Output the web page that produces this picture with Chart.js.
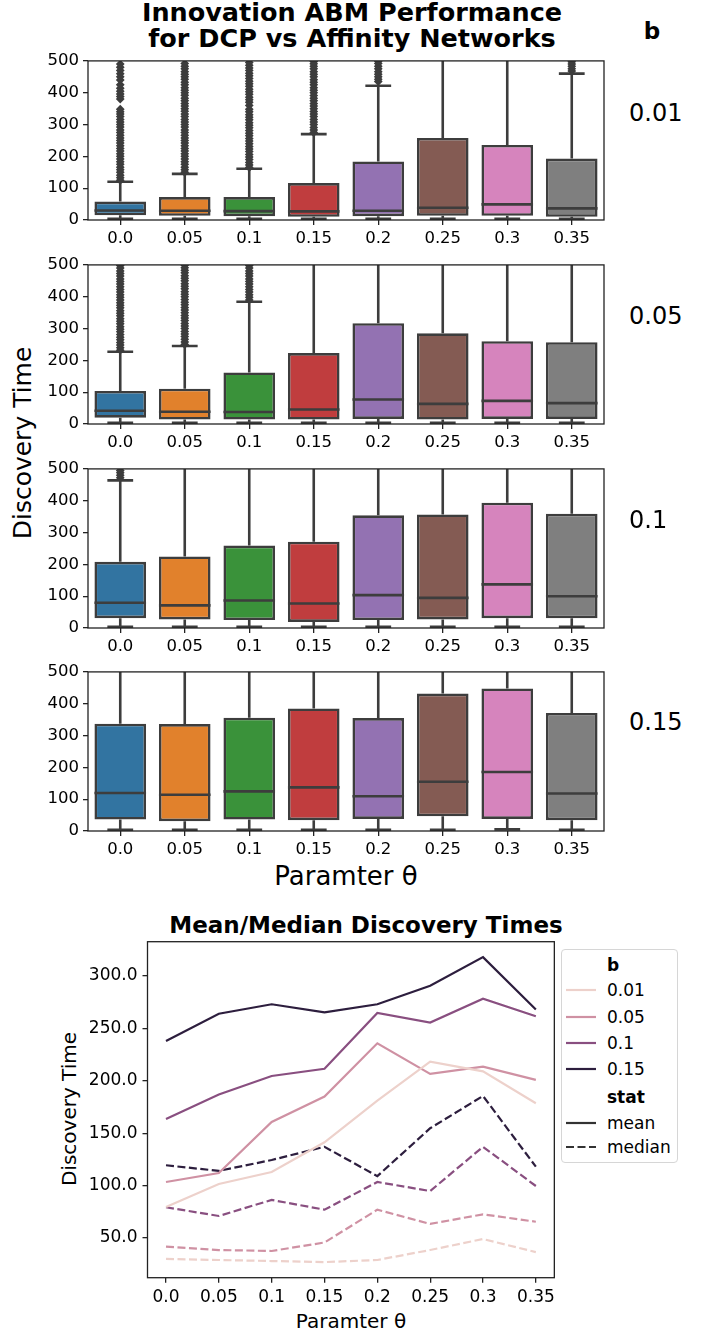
<!DOCTYPE html>
<html>
<head>
<meta charset="utf-8">
<script src="https://cdn.jsdelivr.net/npm/chart.js@4.4.0/dist/chart.umd.min.js"></script>
<style>
  body { margin: 0; width: 711px; height: 1334px; background: #fff; position: relative; overflow: hidden;
         font-family: 'DejaVu Sans', sans-serif; color: #000; }
  canvas { position: absolute; }
  .t { position: absolute; white-space: nowrap; line-height: 1; transform: translate(-50%, -50%); }
  .l { position: absolute; white-space: nowrap; line-height: 1; transform: translate(0, -50%); font-size: 17px; }
  .rot { transform: translate(-50%, -50%) rotate(-90deg); }
  #legendBox { position: absolute; left: 561px; top: 949px; width: 115px; height: 212px;
               border: 1px solid #d6d6d6; border-radius: 4px; }
</style>
</head>
<body>

<div class="t" style="left:352px;top:13px;font-size:25.5px;font-weight:bold">Innovation ABM Performance</div>
<div class="t" style="left:352px;top:39px;font-size:25.5px;font-weight:bold">for DCP vs Affinity Networks</div>
<div class="t" style="left:652px;top:31px;font-size:23px;font-weight:bold">b</div>
<div class="t rot" style="left:22px;top:443px;font-size:25px">Discovery Time</div>
<div class="t" style="left:346px;top:876px;font-size:26px">Paramter θ</div>

<div class="t" style="left:366px;top:925px;font-size:23px;font-weight:bold">Mean/Median Discovery Times</div>
<div class="t rot" style="left:69px;top:1109px;font-size:20px">Discovery Time</div>
<div class="t" style="left:351px;top:1321px;font-size:20px">Paramter θ</div>
<div id="legendBox"></div>

<script>
const thetaLabels = ['0.0', '0.05', '0.1', '0.15', '0.2', '0.25', '0.3', '0.35'];
const bLabels = ['0.01', '0.05', '0.1', '0.15'];

// mean / median discovery time: one row per b, one column per theta
const meanTimes = [
    [79.6, 101.5, 113, 141.3, 181, 218.2, 209, 178.5],
    [103.4, 112, 160.7, 185, 235.8, 206.5, 213.5, 200.8],
    [163.5, 187, 204.6, 211.5, 264.7, 255.5, 278.3, 261.5],
    [238, 264, 273, 265.3, 273, 290.7, 318, 268]
];
const medianTimes = [
    [30, 29, 28, 27, 29, 38.5, 49, 36.5],
    [41.7, 38.5, 37.6, 45.7, 77, 63.4, 72.6, 65.5],
    [79.3, 71, 86.3, 77, 103.4, 94.8, 137, 99.6],
    [119.4, 114, 124.4, 137, 109, 154.7, 185.5, 118]
];

// box quartiles and whisker ends (whiskers above 500 run off the panel)
const lowerQuartiles = [
    [15, 13, 12, 10, 12, 13, 13, 10],
    [20, 14, 14, 14, 16, 14, 16, 16],
    [31, 27, 25, 19, 25, 27, 31, 31],
    [36, 31, 36, 34, 38, 46, 38, 34]
];
const upperQuartiles = [
    [58, 72, 72, 116, 184, 258, 236, 193],
    [104, 111, 162, 223, 317, 285, 260, 257],
    [208, 225, 259, 271, 354, 357, 394, 359],
    [337, 336, 356, 385, 355, 432, 448, 371]
];
const lowerWhiskers = [
    [4, 4, 4, 4, 4, 4, 4, 4],
    [4, 4, 4, 4, 4, 4, 4, 4],
    [4, 4, 4, 4, 4, 4, 4, 4],
    [4, 4, 4, 4, 4, 4, 5, 4]
];
const upperWhiskers = [
    [120, 145, 161, 270, 422, 620, 560, 460],
    [227, 245, 384, 540, 750, 700, 640, 640],
    [464, 520, 580, 600, 790, 800, 880, 800],
    [780, 770, 820, 860, 800, 1000, 1050, 880]
];

// flier values, per theta column
const fliersB01 = [
    [125, 133, 141, 150, 158, 166, 175, 183, 192, 200, 208, 217, 225, 233, 242, 250, 258, 266, 275, 283,
     292, 300, 308, 316, 325, 333, 340, 348, 380, 388, 396, 405, 414, 425, 440, 450, 460, 470, 480, 490],
    [150, 158, 166, 175, 183, 192, 200, 208, 217, 225, 233, 242, 250, 258, 266, 275, 283, 292, 300, 308,
     316, 325, 333, 342, 350, 358, 366, 375, 383, 392, 400, 408, 416, 425, 433, 442, 450, 458, 466, 475, 483, 492],
    [165, 173, 181, 190, 198, 206, 215, 223, 231, 240, 248, 256, 265, 273, 281, 290, 298, 306, 315, 323,
     331, 340, 348, 360, 370, 378, 386, 395, 403, 411, 420, 428, 436, 445, 453, 461, 470, 478, 486, 495],
    [275, 283, 291, 300, 308, 316, 325, 333, 341, 350, 358, 366, 375, 383, 391, 400, 408, 416, 425, 433,
     441, 450, 458, 466, 475, 483, 491, 498],
    [435, 442, 450, 458, 466, 475, 483, 492, 499],
    [],
    [],
    [468, 475, 483, 490, 497]
];
const fliersB05 = [
    [232, 240, 248, 256, 265, 273, 281, 290, 298, 306, 315, 323, 331, 340, 348, 356, 365, 373, 381, 390,
     398, 406, 415, 423, 431, 440, 448, 456, 465, 473, 481, 490, 498],
    [250, 258, 266, 275, 283, 291, 300, 308, 316, 325, 333, 341, 350, 358, 366, 375, 383, 391, 400, 408,
     416, 425, 433, 441, 450, 458, 466, 475, 483, 491, 499],
    [390, 398, 406, 415, 423, 431, 440, 448, 456, 465, 473, 481, 490, 498],
    [], [], [], [], []
];
const fliersB10 = [[472, 480, 488, 495], [], [], [], [], [], [], []];
const fliersB15 = [[], [], [], [], [], [], [], []];
const fliers = [fliersB01, fliersB05, fliersB10, fliersB15];

const lineTickValues = [50, 100, 150, 200, 250, 300];
const boxColors = ['#3274a1', '#e1812c', '#3a923a', '#c03d3e', '#9372b2', '#845b53', '#d684bd', '#7f7f7f'];
const lineColors = ['#edd1cb', '#cf91a3', '#894f80', '#2d1e3e'];
const edge = '#3d3d3d';
const spine = '#222';

Chart.defaults.font.family = "'DejaVu Sans', sans-serif";
Chart.defaults.color = '#000';
Chart.defaults.animation = false;

function makeCanvas(left, top, w, h) {
    const c = document.createElement('canvas');
    c.width = w;
    c.height = h;
    c.style.left = left + 'px';
    c.style.top = top + 'px';
    c.style.width = w + 'px';
    c.style.height = h + 'px';
    document.body.appendChild(c);
    return c;
}

const frame = {
    id: 'frame',
    afterDatasetsDraw(chart) {
        const { ctx, chartArea: a } = chart;
        ctx.save();
        ctx.strokeStyle = spine;
        ctx.lineWidth = 1.3;
        ctx.strokeRect(a.left, a.top, a.right - a.left, a.bottom - a.top);
        ctx.restore();
    }
};

// whiskers, caps and median lines for panel k
function boxParts(k) {
    return {
        id: 'boxParts',
        beforeDatasetsDraw(chart) {
            const { ctx, chartArea: a, scales: { y } } = chart;
            const bars = chart.getDatasetMeta(1).data;
            ctx.save();
            ctx.beginPath();
            ctx.rect(a.left, a.top, a.right - a.left, a.bottom - a.top);
            ctx.clip();
            ctx.strokeStyle = edge;
            ctx.lineWidth = 2.6;
            bars.forEach((bar, i) => {
                const cx = bar.x, cap = bar.width / 4;
                const lo = y.getPixelForValue(lowerWhiskers[k][i]);
                const hi = y.getPixelForValue(upperWhiskers[k][i]);
                const q1 = y.getPixelForValue(lowerQuartiles[k][i]);
                const q3 = y.getPixelForValue(upperQuartiles[k][i]);
                ctx.beginPath();
                ctx.moveTo(cx, q1); ctx.lineTo(cx, lo);
                ctx.moveTo(cx, q3); ctx.lineTo(cx, hi);
                ctx.moveTo(cx - cap, lo); ctx.lineTo(cx + cap, lo);
                ctx.moveTo(cx - cap, hi); ctx.lineTo(cx + cap, hi);
                ctx.stroke();
            });
            ctx.restore();
        },
        afterDatasetsDraw(chart) {
            const { ctx, scales: { y } } = chart;
            const bars = chart.getDatasetMeta(1).data;
            ctx.save();
            ctx.strokeStyle = edge;
            ctx.lineWidth = 2.6;
            bars.forEach((bar, i) => {
                const my = y.getPixelForValue(medianTimes[k][i]);
                ctx.beginPath();
                ctx.moveTo(bar.x - bar.width / 2, my);
                ctx.lineTo(bar.x + bar.width / 2, my);
                ctx.stroke();
            });
            ctx.restore();
        }
    };
}

const axisGrid = { drawOnChartArea: false, drawTicks: true, tickLength: 5, color: spine, lineWidth: 1.3 };

const panelTops = [57, 261, 465, 668];

panelTops.forEach((top, k) => {
    const canvas = makeCanvas(0, top - 10, 620, 205);
    const flierPoints = [];
    fliers[k].forEach((vals, i) => vals.forEach(v => flierPoints.push({ x: thetaLabels[i], y: v })));

    new Chart(canvas, {
        type: 'bar',
        data: {
            labels: thetaLabels,
            datasets: [{
                type: 'line',
                data: flierPoints,
                showLine: false,
                pointStyle: 'rectRot',
                pointRadius: 4.4,
                pointBackgroundColor: edge,
                pointBorderColor: edge,
                pointBorderWidth: 0,
                clip: 0,
                order: 0
            }, {
                data: thetaLabels.map((_, i) => [lowerQuartiles[k][i], upperQuartiles[k][i]]),
                backgroundColor: boxColors,
                borderColor: edge,
                borderWidth: 2.6,
                borderSkipped: false,
                barPercentage: 0.8,
                categoryPercentage: 1,
                order: 1
            }]
        },
        options: {
            responsive: false,
            devicePixelRatio: 1,
            layout: { padding: { top: 10, right: 16, left: 0, bottom: 0 } },
            plugins: { legend: { display: false }, tooltip: { enabled: false } },
            scales: {
                x: {
                    grid: { ...axisGrid, offset: false },
                    border: { display: false },
                    ticks: { font: { size: 16.5 }, padding: 4, maxRotation: 0, autoSkip: false },
                    afterFit: s => { s.height = 32; }
                },
                y: {
                    min: 0,
                    max: 500,
                    grid: axisGrid,
                    border: { display: false },
                    ticks: { stepSize: 100, font: { size: 16.5 }, padding: 4 },
                    afterFit: s => { s.width = 88; }
                }
            }
        },
        plugins: [boxParts(k), frame]
    });

    const lbl = document.createElement('div');
    lbl.className = 'l';
    lbl.style.left = '629px';
    lbl.style.top = [113, 316, 520, 722][k] + 'px';
    lbl.style.fontSize = '24px';
    lbl.textContent = bLabels[k];
    document.body.appendChild(lbl);
});

// mean (solid) and median (dashed) lines
const lineSets = [];
bLabels.forEach((b, k) => {
    lineSets.push({
        label: b + ' mean',
        data: meanTimes[k].map((v, i) => ({ x: i, y: v })),
        borderColor: lineColors[k],
        borderWidth: 2.2,
        pointRadius: 0
    });
    lineSets.push({
        label: b + ' median',
        data: medianTimes[k].map((v, i) => ({ x: i, y: v })),
        borderColor: lineColors[k],
        borderWidth: 2.2,
        borderDash: [8, 3.5],
        pointRadius: 0
    });
});

new Chart(makeCanvas(0, 900, 560, 434), {
    type: 'line',
    data: { datasets: lineSets },
    options: {
        responsive: false,
        devicePixelRatio: 1,
        layout: { padding: { top: 41.7, right: 5, left: 0, bottom: 0 } },
        plugins: { legend: { display: false }, tooltip: { enabled: false } },
        scales: {
            x: {
                type: 'linear',
                min: -0.35,
                max: 7.35,
                afterBuildTicks: s => { s.ticks = thetaLabels.map((_, i) => ({ value: i })); },
                grid: axisGrid,
                border: { display: false },
                ticks: { callback: v => thetaLabels[v], font: { size: 17 }, padding: 5, maxRotation: 0, autoSkip: false },
                afterFit: s => { s.height = 56.3; }
            },
            y: {
                min: 12.1,
                max: 332.7,
                afterBuildTicks: s => { s.ticks = lineTickValues.map(v => ({ value: v })); },
                grid: axisGrid,
                border: { display: false },
                ticks: { callback: v => v.toFixed(1), font: { size: 17 }, padding: 5 },
                afterFit: s => { s.width = 147.5; }
            }
        }
    },
    plugins: [frame]
});

// legend
const legendRows = [
    { text: 'b', bold: true, y: 965 },
    ...bLabels.map((b, k) => ({ text: b, color: lineColors[k], y: [990, 1016.7, 1043.3, 1069.3][k] })),
    { text: 'stat', bold: true, y: 1096.7 },
    { text: 'mean', color: '#333', y: 1122.7 },
    { text: 'median', color: '#333', dash: true, y: 1147.3 }
];
legendRows.forEach(r => {
    if (r.color) {
        const svg = document.createElementNS('http://www.w3.org/2000/svg', 'svg');
        svg.setAttribute('width', '32');
        svg.setAttribute('height', '6');
        svg.style.position = 'absolute';
        svg.style.left = '565px';
        svg.style.top = (r.y - 3) + 'px';
        const ln = document.createElementNS('http://www.w3.org/2000/svg', 'line');
        ln.setAttribute('x1', '1');
        ln.setAttribute('x2', '31');
        ln.setAttribute('y1', '3');
        ln.setAttribute('y2', '3');
        ln.setAttribute('stroke', r.color);
        ln.setAttribute('stroke-width', '2.2');
        if (r.dash) ln.setAttribute('stroke-dasharray', '8 3.5');
        svg.appendChild(ln);
        document.body.appendChild(svg);
    }
    const d = document.createElement('div');
    d.className = 'l';
    d.style.left = '607px';
    d.style.top = r.y + 'px';
    if (r.bold) d.style.fontWeight = 'bold';
    d.textContent = r.text;
    document.body.appendChild(d);
});
</script>
</body>
</html>
